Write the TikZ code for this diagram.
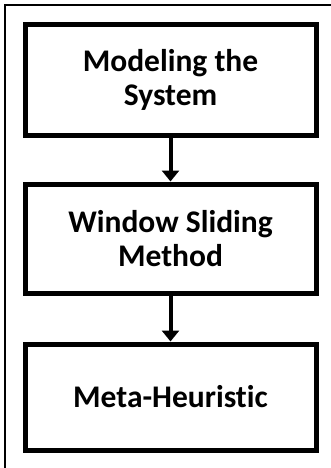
\documentclass[tikz,border=0pt]{standalone}
\usepackage{fontspec}
\setmainfont{Carlito}[Ligatures=NoCommon]
\usetikzlibrary{arrows.meta}
\tikzset{
	stagebox/.style={draw, line width=5pt, minimum width=291pt, align=center,
		font=\bfseries\fontsize{31.5}{34}\selectfont},
	flowarrow/.style={line width=4pt, -{Triangle[width=17pt,length=11pt]}}
}

\begin{document}
\begin{tikzpicture}[x=1pt, y=-1pt]
		%%%%% START %%%%%
		
		\useasboundingbox (0, 0) rectangle (331, 468);
		
		\draw[line width=1.5pt] (5, 468) -- (5, 5) -- (331, 5);
		
		\node[stagebox, minimum height=110pt] (model) at (170.5, 80) {Modeling the\\System};
		\node[stagebox, minimum height=109pt] (window) at (170.5, 238.5) {Window Sliding\\Method};
		\node[stagebox, minimum height=106pt] (meta) at (170.5, 397) {Meta-Heuristic};
		
		\draw[flowarrow] (model.south) -- (window.north);
		\draw[flowarrow] (window.south) -- (meta.north);
		
		%%%%% END %%%%%
	\end{tikzpicture}
\end{document}
